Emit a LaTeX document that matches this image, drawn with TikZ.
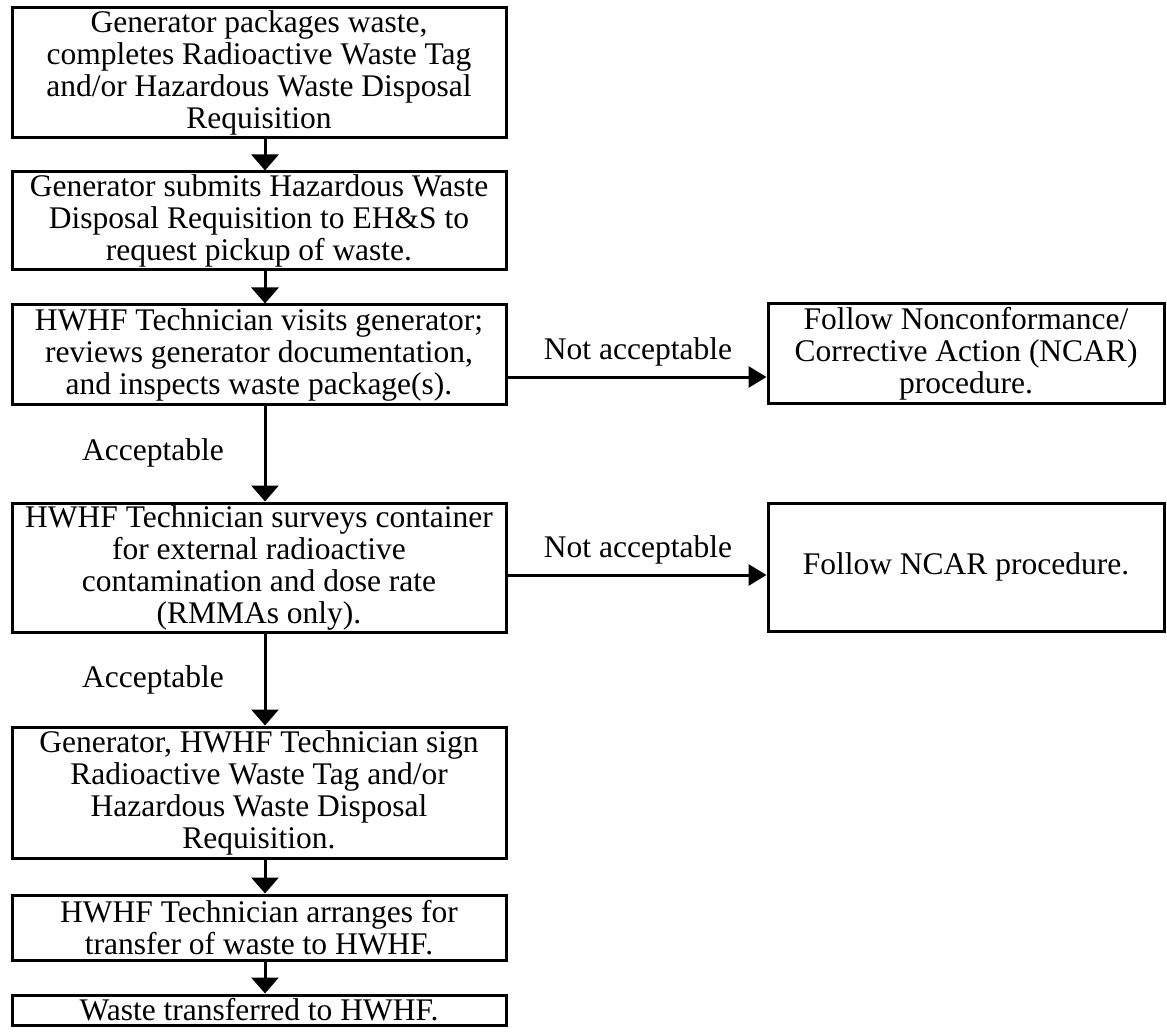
\documentclass[tikz,border=0pt]{standalone}
\usepackage{fontspec}
\setmainfont{Liberation Serif}
\usetikzlibrary{arrows.meta}
\begin{document}
\begin{tikzpicture}[x=1pt,y=-1pt,
  every node/.style={font=\fontsize{31.5}{32}\selectfont},
  stepbox/.style={draw, line width=3pt, align=center, inner sep=0pt,
    minimum width=#1},
  leftbox/.style={stepbox=494pt},
  rightbox/.style={stepbox=396pt},
  varrow/.style={line width=3pt, -{Triangle[width=27pt,length=16pt]}},
  harrow/.style={line width=3pt, -{Triangle[width=21pt,length=18pt]}},
  lbl/.style={inner sep=0pt}
]
\useasboundingbox (0,0) rectangle (1167,1032);

% main column of steps
\node[leftbox, minimum height=130pt] (b1) at (259,73)
  {Generator packages waste,\\ completes Radioactive Waste Tag\\ and/or Hazardous Waste Disposal\\ Requisition};
\node[leftbox, minimum height=98pt] (b2) at (259,221)
  {Generator submits Hazardous Waste\\ Disposal Requisition to EH\&S to\\ request pickup of waste.};
\node[leftbox, minimum height=99pt] (b3) at (259,354.5)
  {HWHF Technician visits generator;\\ reviews generator documentation,\\ and inspects waste package(s).};
\node[leftbox, minimum height=129pt] (b4) at (259,567.5)
  {HWHF Technician surveys container\\ for external radioactive\\ contamination and dose rate\\ (RMMAs only).};
\node[leftbox, minimum height=131pt] (b5) at (259,792.5)
  {Generator, HWHF Technician sign\\ Radioactive Waste Tag and/or\\ Hazardous Waste Disposal\\ Requisition.};
\node[leftbox, minimum height=65pt] (b6) at (259,927.5)
  {HWHF Technician arranges for\\ transfer of waste to HWHF.};
\node[leftbox, minimum height=30pt] (b7) at (259,1010)
  {Waste transferred to HWHF.};

% nonconformance branches
\node[rightbox, minimum height=99pt] (ra) at (966,353.5)
  {Follow Nonconformance/\\ Corrective Action (NCAR)\\ procedure.};
\node[rightbox, minimum height=128pt] (rb) at (966,567)
  {Follow NCAR procedure.};

% flow down the column
\draw[varrow] ([xshift=6pt]b1.south) -- ([xshift=6pt]b2.north);
\draw[varrow] ([xshift=6pt]b2.south) -- ([xshift=6pt]b3.north);
\draw[varrow] ([xshift=6pt]b3.south) -- ([xshift=6pt]b4.north);
\draw[varrow] ([xshift=6pt]b4.south) -- ([xshift=6pt]b5.north);
\draw[varrow] ([xshift=6pt]b5.south) -- ([xshift=6pt]b6.north);
\draw[varrow] ([xshift=6pt]b6.south) -- ([xshift=6pt]b7.north);

% rejected packages (shifts are in page units, so negative is downward)
\draw[harrow] ([yshift=-22.5pt]b3.east) -- ([yshift=-22.5pt]b3.east -| ra.west);
\draw[harrow] ([yshift=-7.5pt]b4.east) -- ([yshift=-7.5pt]b4.east -| rb.west);

% branch labels
\node[lbl] (na1) at (638,352) {Not acceptable};
\node[lbl] (na2) at (638,550) {Not acceptable};
\node[lbl] (ac1) at (153,453) {Acceptable};
\node[lbl] (ac2) at (153,680) {Acceptable};
\end{tikzpicture}
\end{document}
